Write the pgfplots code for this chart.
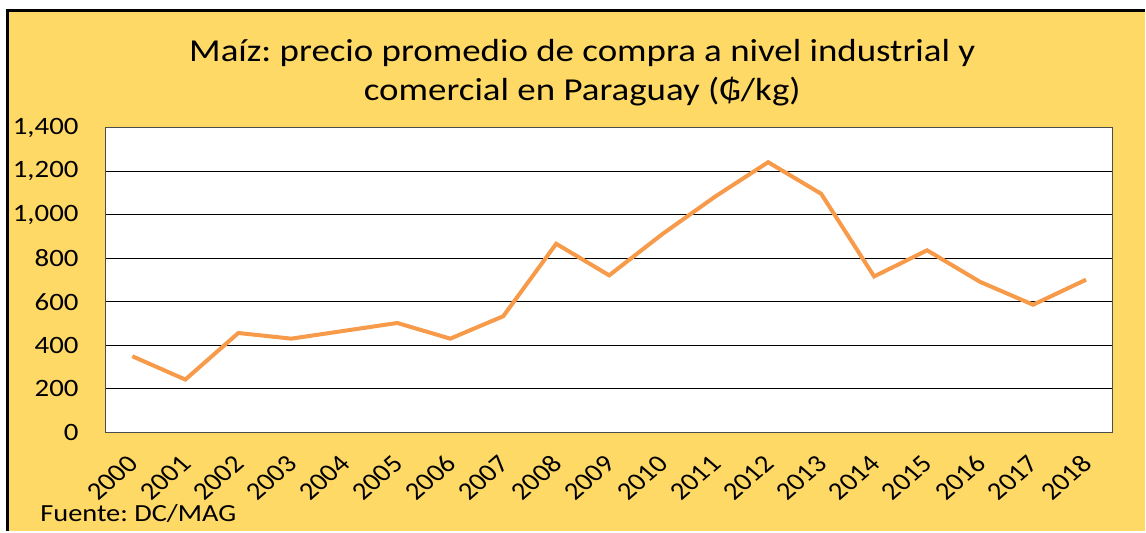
\documentclass[border=0pt]{standalone}
\usepackage{fontspec}
\setmainfont[FakeStretch=1.155]{Carlito}
\newfontfamily\plainfont{Carlito}
\usepackage{pgfplots}
\pgfplotsset{compat=1.18}
\definecolor{bgyellow}{RGB}{255,217,102}
\definecolor{lineorange}{RGB}{247,154,74}
\begin{document}
\frenchspacing
\begin{tikzpicture}[x=1pt,y=1pt]
\fill[white] (0,0) rectangle (573,266);
\fill[bgyellow] (4,0) rectangle (573,260.5);
\draw[line width=1.5pt] (4,0) -- (4,260.5) -- (573,260.5);
\node[anchor=base, inner sep=0pt, font=\fontsize{16}{19.5}\selectfont] at (291.5,235.2) {Maíz: precio promedio de compra a nivel industrial y};
\node[anchor=base, inner sep=0pt, font=\fontsize{16}{19.5}\selectfont] at (291.5,215.7) {comercial en Paraguay (₲/kg)};
\node[anchor=base west, inner sep=0pt, font=\fontsize{12.3}{14}\selectfont] at (20,5) {Fuente: DC/MAG};
\begin{axis}[
  at={(53pt,49.5pt)}, anchor=south west,
  scale only axis, width=504pt, height=152.5pt,
  xmin=-0.5, xmax=18.5, ymin=0, ymax=1400,
  xtick={0,...,18},
  xticklabels={2000,2001,2002,2003,2004,2005,2006,2007,2008,2009,2010,2011,2012,2013,2014,2015,2016,2017,2018},
  ytick={0,200,...,1400},
  ymajorgrids, grid style={black, line width=0.5pt},
  major tick length=0pt,
  axis line style={draw=black!70, line width=0.6pt},
  axis background/.style={fill=white},
  yticklabel style={font=\fontsize{12.5}{14}\selectfont},
  /pgf/number format/assume math mode=true,
  /pgf/number format/1000 sep={,},
  yticklabel style={anchor=east, inner sep=0pt, xshift=-13.5pt},
  xticklabel style={font=\plainfont\fontsize{12.5}{14}\selectfont, yshift=-13.5pt, xshift=0.5pt, xscale=1.155, rotate=45, anchor=east, inner sep=0pt},
]
\addplot[lineorange, line width=2pt, mark=none] coordinates {
(0,350) (1,243) (2,457) (3,431) (4,467) (5,503) (6,431) (7,534) (8,867) (9,722)
(10,911) (11,1084) (12,1242) (13,1097) (14,717) (15,837) (16,692) (17,587) (18,702)
};
\end{axis}
\end{tikzpicture}
\end{document}
